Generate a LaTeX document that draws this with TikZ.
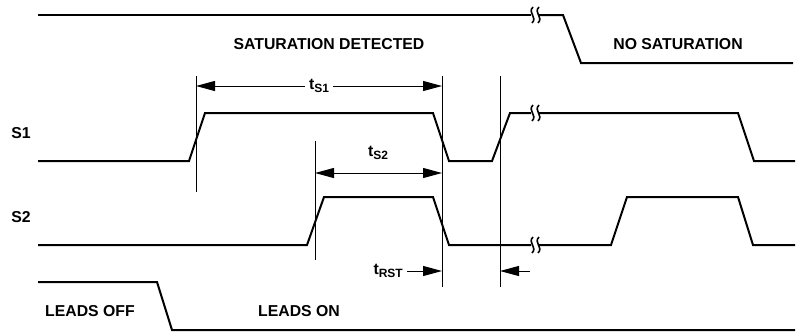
\documentclass[tikz,border=0pt]{standalone}
\usepackage{fontspec}
\setmainfont{Liberation Sans}
\usepackage{tikz}
\usetikzlibrary{arrows.meta, positioning}
\newcommand{\tsub}[2]{#1\raisebox{-0.4ex}{\fontsize{12}{12}\selectfont #2}}

\begin{document}
\begin{tikzpicture}[
  x=1pt, y=-1pt,
  sig/.style={line width=2pt, line join=miter},
  vline/.style={line width=0.9pt},
  lbl/.style={font=\fontsize{15.8}{18}\selectfont\bfseries, inner sep=1pt},
  dim/.style={line width=1pt, {Triangle[length=19pt,width=10pt]}-{Triangle[length=19pt,width=10pt]}},
  half/.style={line width=1pt, -{Triangle[length=19pt,width=10pt]}},
  brk/.pic={
    \draw[line width=1.6pt] (-2,-8) .. controls (-8,-2) and (3,2) .. (-3,8);
    \draw[line width=1.6pt] (4,-8) .. controls (-2,-2) and (9,2) .. (3,8);
  }
]
  \useasboundingbox (0,0) rectangle (805,333);

  % waveforms
  \draw[sig] (38,15) -- (531,15);
  \draw[sig] (539,15) -- (563,15) -- (581,63) -- (793,63);
  \pic at (535,15) {brk};

  \draw[sig] (38,161) -- (189,161) -- (205,113) -- (433,113) -- (449,161)
    -- (492,161) -- (510,113) -- (531,113);
  \draw[sig] (539,113) -- (738,113) -- (754,161) -- (795,161);
  \pic at (535,113) {brk};

  \draw[sig] (38,245) -- (307,245) -- (324,197) -- (433,197) -- (449,245) -- (531,245);
  \draw[sig] (539,245) -- (611,245) -- (627,197) -- (738,197) -- (753,245) -- (795,245);
  \pic at (535,245) {brk};

  \draw[sig] (38,282) -- (157,282) -- (172,330) -- (795,330);

  % labels
  \node[lbl] (sat) at (329,44) {SATURATION DETECTED};
  \node[lbl] (nosat) at (678,44) {NO SATURATION};
  \node[lbl] (s1) at (21,133) {S1};
  \node[lbl] (s2) at (21,217) {S2};
  \node[lbl] (off) at (90,311) {LEADS OFF};
  \node[lbl] (on) at (299,311) {LEADS ON};

  % timing marks
  \coordinate (a1) at (196,76);  \coordinate (a2) at (196,192);
  \coordinate (b1) at (442,76);  \coordinate (b2) at (442,287);
  \coordinate (c1) at (500,76);  \coordinate (c2) at (500,287);
  \coordinate (d1) at (315,141); \coordinate (d2) at (315,260);
  \draw[vline] (a1) -- (a2);
  \draw[vline] (b1) -- (b2);
  \draw[vline] (c1) -- (c2);
  \draw[vline] (d1) -- (d2);

  \draw[dim] (a1 |- 0,86) -- node[lbl, fill=white, inner xsep=4pt] (ts1) {\tsub{t}{S1}} (b1 |- 0,86);
  \draw[dim] (d1 |- 0,173) -- (b1 |- 0,173);
  \node[lbl] (ts2) at (378,153) {\tsub{t}{S2}};

  \coordinate (r1) at (407,271);
  \coordinate (r2) at (530,271);
  \draw[half] (r1) -- (b1 |- r1);
  \draw[half] (r2) -- (c1 |- r2);
  \node[lbl, left=3pt of r1] (trst) {\tsub{t}{RST}};
\end{tikzpicture}
\end{document}
